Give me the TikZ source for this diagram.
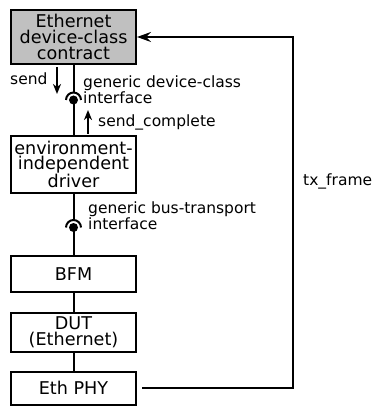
\documentclass[tikz,border=0pt]{standalone}
\usepackage{fontspec}
\setmainfont{DejaVu Sans}
\usetikzlibrary{arrows.meta}
\begin{document}
\begin{tikzpicture}[x=1pt,y=1pt,
  box/.style={draw, line width=2pt, minimum width=125pt, inner sep=0pt, align=center,
    font=\fontsize{17.6}{15.8}\selectfont},
  lbl/.style={inner sep=0pt, align=left, anchor=base west, font=\fontsize{15.5}{11}\selectfont},
  conn/.style={line width=2pt},
  bigarrow/.style={line width=2pt, -{Stealth[length=14pt,width=10pt,inset=5pt]}},
  smallarrow/.style={line width=2pt, -{Stealth[length=10pt,width=8pt,inset=3pt]}},
  ball/.style={circle, fill, inner sep=0pt, minimum size=9pt}]
\useasboundingbox (0,0) rectangle (373,-406);
\node[box, fill={rgb,255:red,192;green,192;blue,192}, minimum height=54pt] (eth) at (73.5,-37) {Ethernet\\device-class\\contract};
\node[box, minimum height=57pt] (drv) at (73.5,-164.5) {environment-\\independent\\driver};
\node[box, minimum height=36pt] (bfm) at (73.5,-274) {BFM};
\node[box, minimum height=39pt] (dut) at (73.5,-332.5) {DUT\\(Ethernet)};
\node[box, minimum height=33pt] (phy) at (73.5,-388) {Eth PHY};
% interface 1
\node[ball] (b1) at (73.5,-100) {};
\coordinate (s1top) at (73.5,-92.5);
\draw[conn] (eth.south) -- (s1top);
\draw[line width=2pt] (66,-100) arc[start angle=180, end angle=0, radius=7.5pt];
\draw[conn] (b1.center) -- (drv.north);
% interface 2
\node[ball] (b2) at (73.5,-227.5) {};
\coordinate (s2top) at (73.5,-220);
\draw[conn] (drv.south) -- (s2top);
\draw[line width=2pt] (66,-227.5) arc[start angle=180, end angle=0, radius=7.5pt];
\draw[conn] (b2.center) -- (bfm.north);
\draw[conn] (bfm) -- (dut);
\draw[conn] (dut) -- (phy);
% small arrows
\coordinate (sa1) at (57,-67);
\coordinate (sa2) at (57,-94);
\draw[smallarrow] (sa1) -- (sa2);
\coordinate (sc1) at (88,-134);
\coordinate (sc2) at (88,-110);
\draw[smallarrow] (sc1) -- (sc2);
% tx_frame loop
\coordinate (rt) at (293,-37);
\draw[bigarrow, shorten <=5pt] (phy.east) -| (rt) -- (eth.east);
% labels
\node[lbl] (lsend) at (10,-85) {send};
\node[lbl] (ldc) at (83,-103.5) {generic device-class\\interface};
\node[lbl] (lsc) at (98,-126.5) {send\_complete};
\node[lbl] (lbt) at (88,-229.5) {generic bus-transport\\interface};
\node[lbl] (ltx) at (303,-185.5) {tx\_frame};
\end{tikzpicture}
\end{document}
